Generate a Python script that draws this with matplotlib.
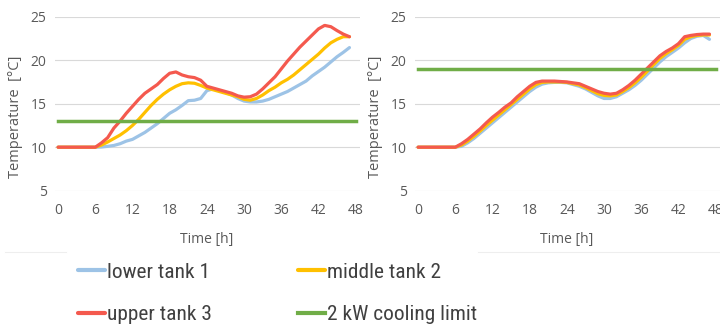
import numpy as np
import matplotlib
matplotlib.use("Agg")
from matplotlib import pyplot as plt
import matplotlib.font_manager as fm

# hours 0..47
hours = np.arange(48)

# left chart
lower_left = [10, 10, 10, 10, 10, 10, 10, 10.02, 10.1, 10.2, 10.4, 10.7, 10.9, 11.3, 11.7, 12.2,
              12.7, 13.3, 13.9, 14.3, 14.8, 15.35, 15.4, 15.6, 16.5, 16.7, 16.5, 16.3, 16.0, 15.6,
              15.3, 15.2, 15.2, 15.3, 15.5, 15.8, 16.1, 16.4, 16.8, 17.2, 17.6, 18.2, 18.7, 19.2,
              19.8, 20.4, 20.9, 21.45]
middle_left = [10, 10, 10, 10, 10, 10, 10, 10.25, 10.6, 11.0, 11.4, 11.9, 12.5, 13.2, 14.0, 14.8,
               15.5, 16.1, 16.6, 17.0, 17.3, 17.4, 17.35, 17.1, 16.8, 16.6, 16.4, 16.2, 16.0, 15.8,
               15.5, 15.4, 15.6, 16.0, 16.5, 16.9, 17.4, 17.8, 18.3, 18.9, 19.5, 20.1, 20.7, 21.4,
               22.0, 22.4, 22.7, 22.7]
upper_left = [10, 10, 10, 10, 10, 10, 10, 10.5, 11.1, 12.2, 13.0, 13.9, 14.7, 15.5, 16.2, 16.7,
              17.2, 17.9, 18.5, 18.65, 18.3, 18.1, 18.0, 17.7, 17.0, 16.8, 16.6, 16.4, 16.2, 15.9,
              15.75, 15.8, 16.1, 16.7, 17.4, 18.1, 19.0, 19.9, 20.7, 21.5, 22.2, 22.9, 23.6, 24.0,
              23.85, 23.4, 23.0, 22.7]
limit_left = 13

# right chart
lower_right = [10, 10, 10, 10, 10, 10, 10, 10.1, 10.5, 11.0, 11.6, 12.2, 12.8, 13.4, 14.0, 14.6,
               15.2, 15.8, 16.4, 16.9, 17.25, 17.4, 17.45, 17.45, 17.4, 17.2, 17.0, 16.7, 16.3, 15.9,
               15.6, 15.6, 15.8, 16.2, 16.6, 17.1, 17.7, 18.4, 19.1, 19.8, 20.4, 20.9, 21.4, 22.0,
               22.5, 22.75, 22.85, 22.4]
middle_right = [10, 10, 10, 10, 10, 10, 10, 10.25, 10.7, 11.25, 11.85, 12.5, 13.1, 13.7, 14.3, 14.9,
                15.5, 16.1, 16.7, 17.2, 17.45, 17.5, 17.5, 17.5, 17.45, 17.3, 17.15, 16.85, 16.5, 16.15,
                15.95, 15.9, 16.0, 16.4, 16.85, 17.4, 18.05, 18.75, 19.5, 20.2, 20.75, 21.2, 21.7, 22.4,
                22.7, 22.85, 22.9, 22.9]
upper_right = [10, 10, 10, 10, 10, 10, 10, 10.4, 10.9, 11.5, 12.1, 12.8, 13.45, 14.0, 14.6, 15.1,
               15.8, 16.4, 17.0, 17.45, 17.6, 17.6, 17.6, 17.55, 17.5, 17.4, 17.3, 17.0, 16.7, 16.4,
               16.2, 16.1, 16.2, 16.6, 17.1, 17.7, 18.4, 19.1, 19.8, 20.5, 21.0, 21.4, 21.9, 22.7,
               22.85, 22.95, 23.0, 23.0]
limit_right = 19

limit_hours = [0, 48]
xticks = [0, 6, 12, 18, 24, 30, 36, 42, 48]
yticks = [5, 10, 15, 20, 25]

labels = ["lower tank 1", "middle tank 2", "upper tank 3", "2 kW cooling limit"]
colors = ["#9DC3E6", "#FFC000", "#F4594E", "#70AD47"]

names = {f.name for f in fm.fontManager.ttflist}
base_font = "Open Sans" if "Open Sans" in names else "DejaVu Sans"
legend_font = base_font
for cand in ["Liberation Sans Narrow", "Roboto Condensed", "Open Sans Condensed", "Lato", "Roboto"]:
    if cand in names:
        legend_font = cand
        break
plt.rcParams["font.family"] = [base_font, "DejaVu Sans"]

W, H = 720, 328
fig = plt.figure(figsize=(7.2, 3.28), dpi=100)
renderer = fig.canvas.get_renderer()

def measure(s, family, size):
    t = fig.text(0, 0, s, family=family, fontsize=size)
    bb = t.get_window_extent(renderer)
    t.remove()
    return bb.width, bb.height

def px_rect(x0, x1, ytop, ybot):
    return [x0 / W, 1 - ybot / H, (x1 - x0) / W, (ybot - ytop) / H]

ax1 = fig.add_axes(px_rect(55, 360, 16.7, 190.7))
ax2 = fig.add_axes(px_rect(415, 720, 16.7, 190.7))

grey = "#595959"
handles = []
for ax, lo, mi, up, lim in [(ax1, lower_left, middle_left, upper_left, limit_left),
                            (ax2, lower_right, middle_right, upper_right, limit_right)]:
    h1, = ax.plot(hours, lo, color=colors[0], lw=2.3, solid_capstyle="round")
    h2, = ax.plot(hours, mi, color=colors[1], lw=2.3, solid_capstyle="round")
    h3, = ax.plot(hours, up, color=colors[2], lw=2.3, solid_capstyle="round")
    h4, = ax.plot(limit_hours, [lim, lim], color=colors[3], lw=2.5)
    handles = [h1, h2, h3, h4]
    ax.set_xlim(-0.5, 48.7)
    ax.set_ylim(5, 25)
    ax.set_xticks(xticks)
    ax.set_yticks(yticks)
    ax.tick_params(length=0, colors=grey, labelsize=10)
    ax.tick_params(axis="x", pad=9)
    ax.tick_params(axis="y", pad=6)
    ax.grid(axis="y", color="#D9D9D9", lw=0.8)
    ax.set_axisbelow(True)
    for s in ax.spines.values():
        s.set_visible(False)
    ax.set_ylabel("Temperature  [°C]", color=grey, fontsize=10.5)
    ax.yaxis.set_label_coords(-0.104, 0.424)
    ax.set_xlabel("Time [h]", color=grey, fontsize=10)
    ax.xaxis.set_label_coords(0.497, -0.235)

# faint separator above legend
fig.add_artist(plt.Line2D([5 / W, 66 / W], [1 - 252 / H, 1 - 252 / H], color="#EEEEEE", lw=0.8))
fig.add_artist(plt.Line2D([478 / W, 1], [1 - 252 / H, 1 - 252 / H], color="#EEEEEE", lw=0.8))

# legend font size so the longest label is about as wide as in the reference
w0, _ = measure(labels[3], legend_font, 10)
lsize = 10 * 150 / w0
fpx = lsize * 100 / 72
_, th = measure("lower tank 1", legend_font, lsize)
w_col1 = max(measure(labels[0], legend_font, lsize)[0], measure(labels[2], legend_font, lsize)[0])
hlen_px, hpad_px = 27, 2
col1_right = 78 + hlen_px + hpad_px + w_col1
order = [0, 2, 1, 3]
leg = fig.legend([handles[i] for i in order], [labels[i] for i in order],
                 loc="upper left", bbox_to_anchor=(78 / W, 1 - (272 - th / 2) / H), ncol=2,
                 frameon=False, prop={"family": legend_font, "size": lsize},
                 handlelength=hlen_px / fpx, handletextpad=hpad_px / fpx,
                 columnspacing=(298 - col1_right) / fpx,
                 labelspacing=(43 - th) / fpx, borderpad=0, borderaxespad=0)
for t in leg.get_texts():
    t.set_color("#404040")
for ln in leg.get_lines():
    ln.set_linewidth(3)

fig.savefig("out.png", dpi=100)
